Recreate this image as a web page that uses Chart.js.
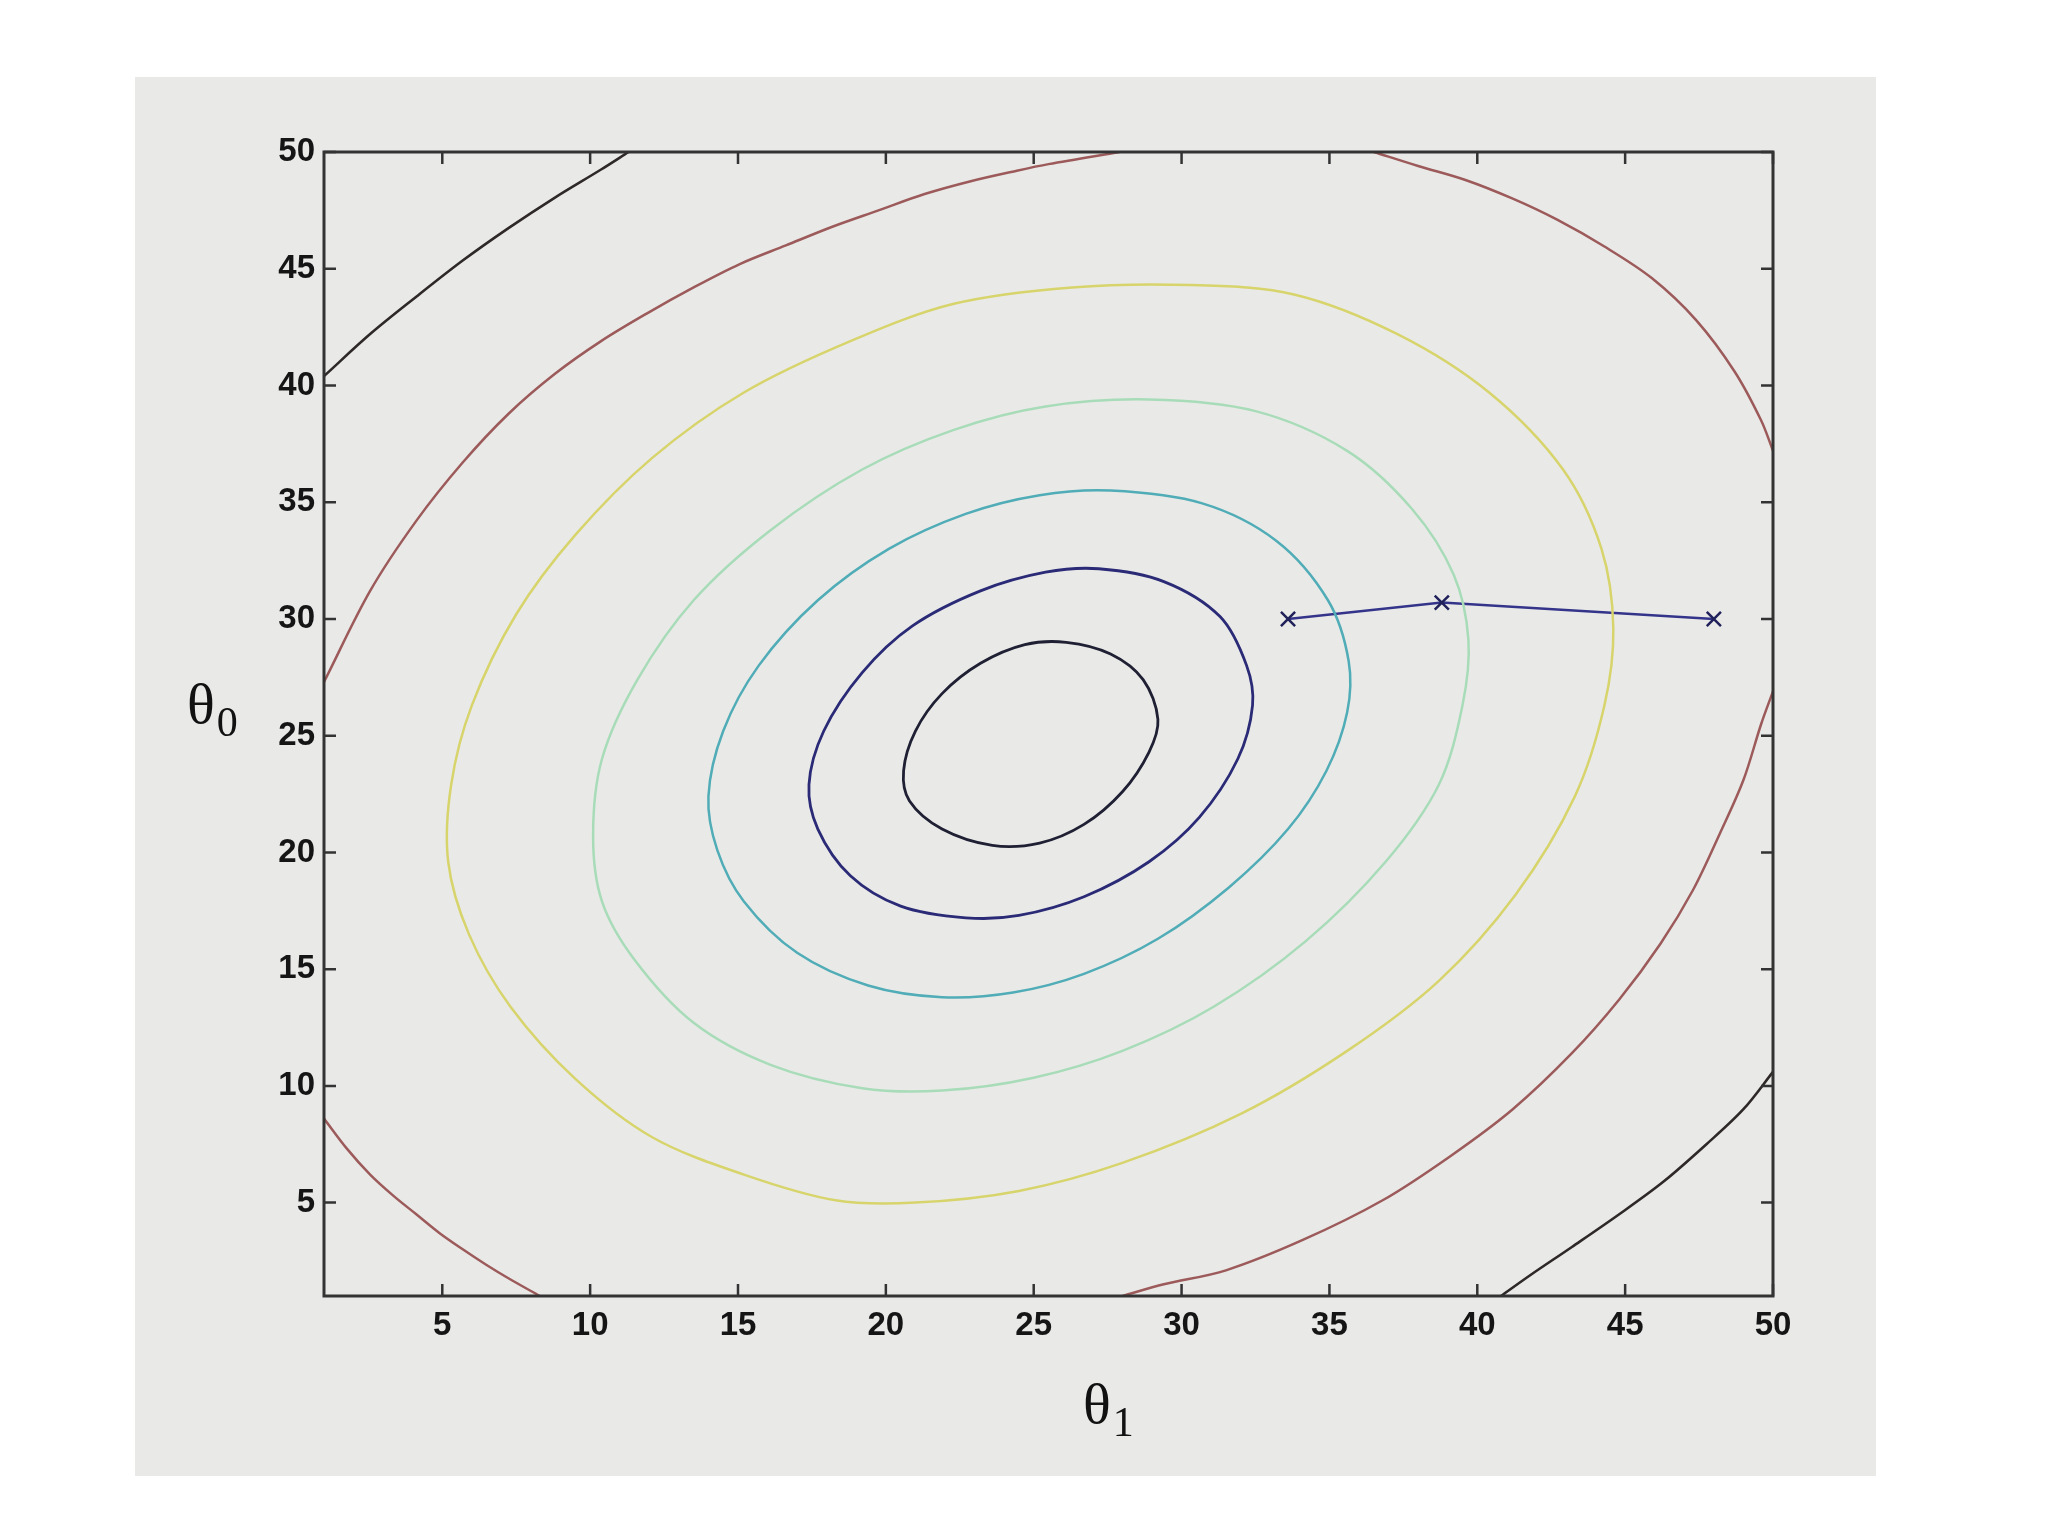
<!DOCTYPE html>
<html>
<head>
<meta charset="utf-8">
<script src="https://cdn.jsdelivr.net/npm/chart.js@4.4.1/dist/chart.umd.min.js"></script>
<style>
  body { margin: 0; background: #ffffff; }
  canvas { display: block; }
</style>
</head>
<body>
<canvas id="contourChart" width="2048" height="1536"></canvas>
<script>
// tick values on both axes
var xTicks = [5, 10, 15, 20, 25, 30, 35, 40, 45, 50];
var yTicks = [5, 10, 15, 20, 25, 30, 35, 40, 45, 50];

// contour levels, [theta1, theta0]; the inner five are closed loops
var ring1 = [[26.1,29.0],[27.6,28.5],[28.7,27.4],[29.2,25.7],[28.9,24.3],[28.0,22.6],[26.7,21.2],[25.2,20.4],
  [23.6,20.3],[21.9,21.0],[20.8,22.2],[20.6,23.5],[21.0,25.2],[21.9,26.8],[23.2,28.1],[24.7,28.9]];
var ring2 = [[27.2,32.15],[29.4,31.6],[31.3,30.1],[32.2,28.0],[32.4,26.3],[31.9,24.0],[30.6,21.5],[28.9,19.6],
  [26.7,18.1],[24.5,17.3],[22.7,17.2],[20.5,17.7],[18.8,19.0],[17.7,21.0],[17.4,22.9],[17.9,25.2],[19.2,27.7],
  [20.9,29.7],[23.2,31.2],[25.4,32.0]];
var ring3 = [[27.6,35.5],[30.7,34.95],[33.2,33.35],[34.95,30.8],[35.65,28.2],[35.6,26.0],[34.9,23.5],[33.6,21.0],
  [31.6,18.5],[29.2,16.3],[26.7,14.8],[24.3,14.0],[21.9,13.8],[19.4,14.3],[17.0,15.7],[15.2,17.9],[14.3,20.1],
  [14.0,22.4],[14.5,25.2],[15.7,28.0],[17.7,30.8],[20.1,33.0],[22.7,34.5],[25.2,35.3]];
var ring4 = [[28.9,39.4],[32.5,38.9],[35.6,37.2],[37.8,34.7],[39.2,31.9],[39.7,29.1],[39.5,26.3],[38.7,22.9],
  [36.9,19.6],[34.2,16.2],[31.1,13.4],[28.0,11.5],[25.0,10.35],[21.9,9.8],[19.2,9.9],[16.1,10.9],[13.5,12.7],
  [11.5,15.4],[10.4,17.9],[10.1,20.7],[10.4,24.0],[11.6,27.4],[13.5,30.8],[16.1,33.8],[19.2,36.4],[22.3,38.1],
  [25.4,39.1]];
var ring5 = [[30.3,44.3],[33.8,43.9],[37.3,42.2],[40.4,39.7],[42.9,36.4],[44.2,33.0],[44.6,29.6],[44.3,26.3],
  [43.3,22.4],[41.3,18.2],[38.7,14.5],[35.6,11.5],[32.0,8.8],[28.0,6.7],[24.5,5.5],[21.0,5.0],[18.3,5.1],
  [15.2,6.2],[12.1,7.8],[9.5,10.3],[7.3,13.4],[5.9,16.5],[5.2,19.6],[5.3,22.9],[6.0,26.3],[7.5,30.2],[9.5,33.6],
  [12.1,36.9],[15.2,39.7],[18.8,41.9],[22.3,43.5],[26.3,44.2]];
// outer levels are cut by the axes box, so they come in pieces
var ring6TopLeft = [[1.0,27.3],[2.56,31.2],[4.12,34.2],[5.69,36.7],[7.25,38.8],[8.81,40.5],[10.37,41.9],
  [11.94,43.1],[13.5,44.2],[15.06,45.2],[16.62,46.0],[18.19,46.8],[19.75,47.5],[21.31,48.2],[22.87,48.75],
  [24.43,49.2],[25.5,49.48],[27.9,50.0]];
var ring6TopRight = [[36.5,50.0],[38.0,49.4],[39.6,48.8],[41.2,48.0],[42.7,47.1],[44.3,45.95],[45.9,44.6],
  [47.4,42.8],[48.7,40.6],[49.6,38.5],[50.0,37.2]];
var ring6BottomRight = [[50.0,26.9],[49.6,25.5],[49.0,23.1],[48.2,20.8],[47.3,18.4],[46.2,16.1],[44.8,13.7],
  [43.2,11.4],[41.2,9.0],[39.1,7.0],[36.8,5.1],[34.1,3.4],[31.5,2.1],[29.4,1.5],[28.0,1.0]];
var ring6BottomLeft = [[1.0,8.6],[1.78,7.3],[2.56,6.2],[3.34,5.3],[4.12,4.5],[4.9,3.7],[5.69,3.0],[6.47,2.35],
  [7.25,1.75],[8.3,1.0]];
var ring7TopLeft = [[1.0,40.4],[2.56,42.2],[4.12,43.8],[5.69,45.35],[7.25,46.75],[8.81,48.05],[10.37,49.25],[11.3,50.0]];
var ring7BottomRight = [[50.0,10.6],[49.0,9.0],[47.75,7.5],[46.3,5.9],[44.8,4.5],[43.2,3.1],[41.8,1.9],[40.8,1.0]];

// gradient descent steps
var steps = [[33.6,30.0],[38.8,30.7],[48.0,30.0]];

Chart.defaults.font.family = "'Liberation Sans', Arial, sans-serif";
Chart.defaults.font.size = 33;
Chart.defaults.font.weight = "bold";
Chart.defaults.color = "#151515";

function toXY(pts) {
  return pts.map(function (p) { return { x: p[0], y: p[1] }; });
}

function contour(pts, color, width, closed) {
  return {
    data: toXY(pts),
    showLine: true,
    closed: !!closed,
    spanGaps: !!closed,
    borderColor: color,
    borderWidth: width,
    pointRadius: 0,
    pointHoverRadius: 0,
    tension: 0.33,
    fill: false
  };
}

// closed rings: let the line element join its last point back to the first
var closeRings = {
  id: "closeRings",
  afterDatasetsUpdate: function (chart) {
    chart.data.datasets.forEach(function (ds, i) {
      if (ds.closed) {
        var line = chart.getDatasetMeta(i).dataset;
        line._loop = true;
        line._fullLoop = true;
      }
    });
  }
};

var plotFrame = {
  id: "plotFrame",
  beforeDraw: function (chart) {
    var ctx = chart.ctx;
    ctx.save();
    ctx.fillStyle = "#e9eae8";
    ctx.fillRect(135, 77, 1741, 1399);
    ctx.restore();
  },
  afterDatasetsDraw: function (chart) {
    var ctx = chart.ctx;
    var a = chart.chartArea;
    var xs = chart.scales.x, ys = chart.scales.y;
    var len = 12;
    ctx.save();
    ctx.strokeStyle = "#333333";
    ctx.lineWidth = 2.5;
    ctx.beginPath();
    xs.ticks.forEach(function (t) {
      var px = xs.getPixelForValue(t.value);
      ctx.moveTo(px, a.bottom); ctx.lineTo(px, a.bottom - len);
      ctx.moveTo(px, a.top); ctx.lineTo(px, a.top + len);
    });
    ys.ticks.forEach(function (t) {
      var py = ys.getPixelForValue(t.value);
      ctx.moveTo(a.left, py); ctx.lineTo(a.left + len, py);
      ctx.moveTo(a.right, py); ctx.lineTo(a.right - len, py);
    });
    ctx.stroke();
    ctx.lineWidth = 3;
    ctx.strokeRect(a.left, a.top, a.right - a.left, a.bottom - a.top);
    ctx.restore();
  },
  afterDraw: function (chart) {
    var ctx = chart.ctx;
    ctx.save();
    ctx.fillStyle = "#111111";
    ctx.textBaseline = "alphabetic";
    ctx.textAlign = "left";
    function label(x, y, sub) {
      ctx.font = "58px 'Liberation Serif', serif";
      ctx.fillText("\u03B8", x, y);
      var w = ctx.measureText("\u03B8").width;
      ctx.font = "42px 'Liberation Serif', serif";
      ctx.fillText(sub, x + w + 2, y + 13);
    }
    label(187, 723, "0");
    label(1083, 1423, "1");
    ctx.restore();
  }
};

var contourCanvas = document.getElementById("contourChart");

var contourChart = new Chart(contourCanvas, {
  type: "scatter",
  data: {
    datasets: [
      contour(ring7TopLeft, "#2e2828", 2.6),
      contour(ring7BottomRight, "#2e2828", 2.6),
      contour(ring6TopLeft, "#9c5a5a", 2.5),
      contour(ring6TopRight, "#9c5a5a", 2.5),
      contour(ring6BottomRight, "#9c5a5a", 2.5),
      contour(ring6BottomLeft, "#9c5a5a", 2.5),
      contour(ring5, "#d8d46c", 2.5, true),
      contour(ring4, "#a8dcb8", 2.5, true),
      contour(ring3, "#50acb6", 2.5, true),
      contour(ring2, "#2a2a76", 2.8, true),
      contour(ring1, "#202034", 2.8, true),
      {
        data: toXY(steps),
        showLine: true,
        borderColor: "#34348a",
        borderWidth: 2.5,
        tension: 0,
        pointStyle: "crossRot",
        pointRadius: 10,
        pointBorderWidth: 2.5,
        pointBorderColor: "#20205a",
        pointHoverRadius: 10,
        fill: false
      }
    ]
  },
  options: {
    responsive: false,
    animation: false,
    devicePixelRatio: 1,
    layout: {
      padding: { left: 0, right: 275, top: 152, bottom: 140 }
    },
    plugins: {
      legend: { display: false },
      tooltip: { enabled: false }
    },
    scales: {
      x: {
        type: "linear",
        min: 1,
        max: 50,
        grid: { display: false, drawTicks: false },
        border: { display: false },
        ticks: { padding: 10, maxRotation: 0 },
        afterBuildTicks: function (scale) {
          scale.ticks = xTicks.map(function (v) { return { value: v }; });
        },
        afterFit: function (scale) { scale.height = 100; }
      },
      y: {
        type: "linear",
        min: 1,
        max: 50,
        grid: { display: false, drawTicks: false },
        border: { display: false },
        ticks: { padding: 9 },
        afterBuildTicks: function (scale) {
          scale.ticks = yTicks.map(function (v) { return { value: v }; });
        },
        afterFit: function (scale) { scale.width = 324; }
      }
    }
  },
  plugins: [closeRings, plotFrame]
});
</script>
</body>
</html>
